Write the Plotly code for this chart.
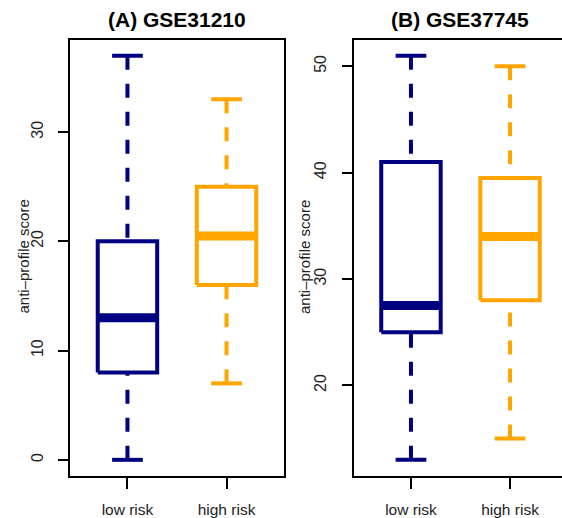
import plotly.graph_objects as go

# ---------------- data ----------------
groups = ["low risk", "high risk"]
positions = [1, 2]

# Panel A: GSE31210
a_min = [0, 7]
a_q1 = [8, 16]
a_med = [13, 20.5]
a_q3 = [20, 25]
a_max = [37, 33]

# Panel B: GSE37745
b_min = [13, 15]
b_q1 = [25, 28]
b_med = [27.5, 34]
b_q3 = [41, 39.5]
b_max = [51, 50]

colors = ["#000080", "#FFA500"]
titles = ["(A) GSE31210", "(B) GSE37745"]
ytick_a = [0, 10, 20, 30]
ytick_b = [20, 30, 40, 50]

# ---------------- style ----------------
W, H = 562, 518
FONT = "Liberation Sans, Arial, Helvetica, sans-serif"
HALF = 0.3      # half box width (data units)
STAPLE = 0.155  # half staple width
LW = 4
MED_LW = 9

fig = go.Figure()


def add_panel(xa, ya, mins, q1s, meds, q3s, maxs):
    for p, lo, a, m, b, hi, c in zip(positions, mins, q1s, meds, q3s, maxs, colors):
        kw = dict(xaxis=xa, yaxis=ya, mode="lines", showlegend=False, hoverinfo="skip")
        # whiskers (drawn from the extreme to the box, like R's bxp)
        fig.add_trace(go.Scatter(x=[p, p], y=[hi, b], line=dict(color=c, width=LW, dash="14px,14px"), **kw))
        fig.add_trace(go.Scatter(x=[p, p], y=[lo, a], line=dict(color=c, width=LW, dash="14px,14px"), **kw))
        # staples
        fig.add_trace(go.Scatter(x=[p - STAPLE, p + STAPLE], y=[hi, hi], line=dict(color=c, width=LW), **kw))
        fig.add_trace(go.Scatter(x=[p - STAPLE, p + STAPLE], y=[lo, lo], line=dict(color=c, width=LW), **kw))
        # box
        fig.add_trace(go.Scatter(x=[p - HALF, p + HALF, p + HALF, p - HALF, p - HALF],
                                 y=[a, a, b, b, a], fill="toself", fillcolor="white",
                                 line=dict(color=c, width=LW), **kw))
        # median
        fig.add_trace(go.Scatter(x=[p - HALF, p + HALF], y=[m, m], line=dict(color=c, width=MED_LW), **kw))


add_panel("x", "y", a_min, a_q1, a_med, a_q3, a_max)
add_panel("x2", "y2", b_min, b_q1, b_med, b_q3, b_max)

# geometry (pixels)
top_px, bot_px = 39.5, 476
ax_l, ax_r = 70, 284
bx_l, bx_r = 353.5, 567
xr = [0.42, 2.58]
ppu = (ax_r - ax_l) / (xr[1] - xr[0])
xr_b = [xr[0], xr[0] + (W - bx_l) / ppu]

ydom = [1 - bot_px / H, 1 - top_px / H]


def yr(vals_min, vals_max):
    lo, hi = min(vals_min), max(vals_max)
    e = 0.04 * (hi - lo)
    return [lo - e, hi + e]


common_x = dict(showline=True, linecolor="black", linewidth=2, ticks="outside", ticklen=11,
                tickwidth=2, tickcolor="black", tickvals=positions, ticktext=groups,
                showgrid=False, zeroline=False, fixedrange=True,
                tickfont=dict(family=FONT, size=15.5, color="#222"), ticklabelstandoff=7)
common_y = dict(showline=True, linecolor="black", linewidth=2, ticks="outside", ticklen=10,
                tickwidth=2, tickcolor="black", showgrid=False, zeroline=False,
                tickangle=-90, tickfont=dict(family=FONT, size=16, color="#222"),
                ticklabelstandoff=9, fixedrange=True)

fig.update_layout(
    width=W, height=H, margin=dict(l=0, r=0, t=0, b=0),
    paper_bgcolor="white", plot_bgcolor="white",
    xaxis=dict(domain=[ax_l / W, ax_r / W], range=xr, anchor="y", mirror=True, **common_x),
    yaxis=dict(domain=ydom, range=yr(a_min, a_max), tickvals=ytick_a, anchor="x", mirror=True, **common_y),
    xaxis2=dict(domain=[bx_l / W, 1], range=xr_b, anchor="y2", mirror=True, **common_x),
    yaxis2=dict(domain=ydom, range=yr(b_min, b_max), tickvals=ytick_b, anchor="x2", mirror=False, **common_y),
)

ann = []
for t, xc in zip(titles, [(ax_l + ax_r) / 2, (bx_l + bx_r) / 2]):
    ann.append(dict(text="<b>%s</b>" % t, x=xc / W, y=1 - 19 / H, xref="paper", yref="paper",
                    showarrow=False, xanchor="center", yanchor="middle",
                    font=dict(family=FONT, size=21, color="black")))
for xc in [22.5, 304]:
    ann.append(dict(text="anti\u2013profile score", x=xc / W, y=1 - 257 / H, xref="paper", yref="paper",
                    showarrow=False, textangle=-90, xanchor="center", yanchor="middle",
                    font=dict(family=FONT, size=15, color="#222")))
fig.update_layout(annotations=ann)

fig.write_html("out.html")
